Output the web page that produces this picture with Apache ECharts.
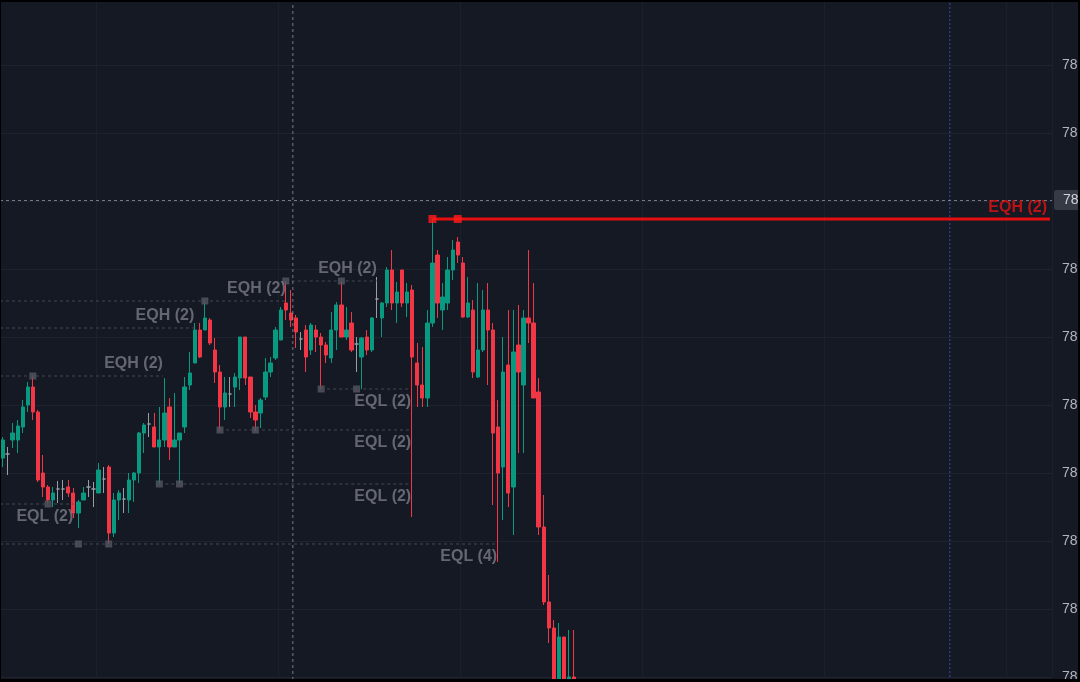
<!DOCTYPE html>
<html>
<head>
<meta charset="utf-8">
<script src="https://cdn.jsdelivr.net/npm/echarts@6/dist/echarts.min.js"></script>
<style>
html,body{margin:0;padding:0;background:#000;}
#chart{width:1080px;height:682px;background:#151924;}
#frame{position:absolute;left:0;top:0;width:1080px;height:682px;box-sizing:border-box;border-top:2px solid #000;border-left:1px solid #000;border-bottom:3px solid #000;border-right:2px solid #000;pointer-events:none;}
</style>
</head>
<body>
<div id="chart"></div>
<div id="frame"></div>
<script>
// ---- candle data (bar index = array position) ----
const opens  = [78283,78287,78301,78301,78314,78336,78354,78329,78268,78254,78241,78252,78252,78254,78248,78228,78241,78254,78252,78248,78262,78274,78208,78241,78242,78241,78261,78268,78308,78317,78314,78294,78301,78334,78294,78301,78314,78356,78378,78411,78411,78421,78391,78369,78334,78347,78354,78363,78404,78364,78329,78328,78344,78369,78383,78401,78438,78428,78423,78402,78411,78391,78411,78404,78396,78383,78411,78436,78404,78418,78397,78384,78404,78391,78442,78423,78438,78471,78438,78471,78438,78451,78378,78356,78343,78418,78486,78431,78438,78471,78499,78478,78424,78431,78364,78391,78431,78411,78314,78274,78376,78254,78396,78356,78423,78418,78349,78214,78139,78113,78041,78104,78051,78064];
const closes = [78301,78287,78308,78315,78334,78354,78329,78261,78254,78241,78248,78252,78252,78248,78228,78239,78248,78254,78252,78271,78262,78208,78241,78248,78242,78261,78268,78308,78316,78317,78294,78301,78328,78294,78301,78308,78354,78368,78411,78384,78423,78398,78369,78334,78348,78347,78364,78404,78363,78329,78321,78341,78369,78378,78411,78431,78431,78421,78409,78402,78384,78416,78404,78396,78386,78411,78436,78404,78411,78391,78397,78403,78391,78423,78442,78438,78471,78438,78449,78438,78449,78384,78356,78343,78418,78478,78438,78444,78471,78491,78486,78424,78438,78369,78391,78431,78411,78308,78268,78369,78248,78389,78369,78423,78418,78343,78214,78139,78113,78051,78104,78046,78064,78051];
const lows   = [78274,78266,78293,78288,78308,78329,78321,78259,78244,78238,78234,78238,78241,78244,78223,78213,78241,78244,78234,78248,78248,78197,78204,78221,78228,78228,78239,78258,78288,78304,78294,78257,78294,78281,78294,78257,78308,78351,78378,78383,78411,78396,78358,78310,78321,78334,78334,78351,78356,78323,78310,78313,78341,78364,78381,78401,78421,78414,78393,78391,78369,78386,78389,78352,78378,78378,78391,78404,78401,78389,78369,78352,78386,78389,78423,78404,78434,78431,78418,78434,78424,78224,78334,78334,78334,78414,78423,78411,78431,78461,78478,78423,78423,78363,78363,78389,78356,78236,78179,78221,78234,78206,78288,78288,78398,78343,78206,78136,78098,78041,78036,78036,78041,78041];
const highs  = [78304,78294,78318,78321,78341,78359,78366,78331,78286,78256,78254,78260,78261,78261,78253,78241,78254,78261,78259,78278,78274,78276,78248,78251,78253,78268,78269,78309,78318,78328,78328,78334,78363,78343,78348,78308,78364,78389,78418,78418,78441,78423,78403,78376,78364,78364,78368,78404,78404,78364,78336,78343,78383,78384,78414,78434,78460,78451,78426,78409,78416,78418,78416,78408,78399,78429,78439,78460,78434,78429,78404,78404,78411,78424,78464,78439,78474,78491,78459,78471,78458,78456,78398,78394,78431,78522,78491,78458,78484,78501,78504,78484,78464,78441,78458,78451,78458,78418,78341,78404,78431,78431,78436,78431,78491,78458,78363,78246,78166,78121,78118,78104,78111,78111];
const slotCount = 208;

// ---- price scale ticks ----
const tickMin = 78064, tickMax = 78744, tickStep = 68;

// ---- equal high / low levels ----
const levelStart = [-0.5, -0.5, -0.5, 56, -0.5, -0.5, 31, 43, 63];
const levelEnd   = [31.7, 37.9, 56, 74, 14, 97.8, 80.8, 80.8, 80.8];
const levelPrice = [78365, 78413, 78440, 78460, 78237, 78197, 78257, 78311, 78352];
const levelText  = ['EQH (2)','EQH (2)','EQH (2)','EQH (2)','EQL (2)','EQL (4)','EQL (2)','EQL (2)','EQL (2)'];
const levelKind  = ['EQH','EQH','EQH','EQH','EQL','EQL','EQL','EQL','EQL'];
const pivotBar   = [6, 40, 56, 67, 9, 15, 21, 31, 35, 43, 50, 63, 70];
const pivotPrice = [78365, 78440, 78460, 78460, 78237, 78197, 78197, 78257, 78257, 78311, 78311, 78352, 78352];

// active (red) equal high
const activeStart = 85, activeEnd = 207.1, activePrice = 78522, activeText = 'EQH (2)';
const activePivotBar = [85, 90];

// crosshair + marker line
const crossBar = 57.4, crossPrice = 78541, crossLabel = '78';
const blueLineBar = 187.3;

const UP = '#089981', DOWN = '#f23645', DOJI = '#9a9da6';
const FONT = 'Liberation Sans, Arial, sans-serif';
const candleData = opens.map((o, i) => {
  const item = { value: [o, closes[i], lows[i], highs[i]] };
  if (o === closes[i]) item.itemStyle = { color: DOJI, borderColor: DOJI, color0: DOJI, borderColor0: DOJI };
  return item;
});
const cats = Array.from({ length: slotCount }, (_, i) => String(i));

const series = [];
series.push({
  type: 'candlestick', xAxisIndex: 0, yAxisIndex: 0, data: candleData, barWidth: 3.8, clip: false,
  itemStyle: { color: UP, color0: DOWN, borderColor: UP, borderColor0: DOWN, borderWidth: 1 }
});
levelPrice.forEach((p, k) => {
  series.push({
    type: 'line', xAxisIndex: 1, yAxisIndex: 0, symbol: 'none', silent: true,
    data: [[levelStart[k], p], [levelEnd[k], p]],
    lineStyle: { color: '#454955', width: 1, type: [3, 3] }
  });
});
series.push({
  type: 'scatter', xAxisIndex: 1, yAxisIndex: 0, symbolSize: 1, silent: true,
  itemStyle: { color: 'transparent' },
  data: levelPrice.map((p, k) => ({
    value: [levelEnd[k], p],
    label: { show: true, formatter: levelText[k], position: levelKind[k] === 'EQH' ? 'top' : 'bottom',
             distance: 4, align: 'right', color: '#787b85', fontSize: 16, fontWeight: 'bold', fontFamily: FONT }
  }))
});
series.push({
  type: 'scatter', xAxisIndex: 1, yAxisIndex: 0, symbol: 'rect', symbolSize: 7, silent: true,
  itemStyle: { color: '#555862' },
  data: pivotBar.map((b, k) => [b, pivotPrice[k]])
});
series.push({
  type: 'line', xAxisIndex: 1, yAxisIndex: 0, symbol: 'none', silent: true, z: 5,
  data: [[activeStart, activePrice], [activeEnd, activePrice]],
  lineStyle: { color: '#e60f0f', width: 3 }
});
series.push({
  type: 'scatter', xAxisIndex: 1, yAxisIndex: 0, symbol: 'rect', symbolSize: 8, silent: true, z: 6,
  itemStyle: { color: '#ff1a1a' },
  data: activePivotBar.map(b => [b, activePrice])
});
series.push({
  type: 'scatter', xAxisIndex: 1, yAxisIndex: 0, symbolSize: 1, silent: true, z: 6,
  itemStyle: { color: 'transparent' },
  data: [{ value: [activeEnd, activePrice],
    label: { show: true, formatter: activeText, position: 'top', distance: 3, align: 'right', offset: [-3, 0],
             color: '#e31212', fontSize: 16, fontWeight: 'bold', fontFamily: FONT } }]
});
series.push({
  type: 'line', xAxisIndex: 1, yAxisIndex: 0, symbol: 'none', silent: true, clip: false,
  data: [[crossBar, tickMax + 10], [crossBar, tickMin - 20]],
  lineStyle: { color: 'rgba(150,153,162,0.75)', width: 1, type: [3, 3] },
  markLine: {
    silent: true, symbol: 'none',
    lineStyle: { color: 'rgba(150,153,162,0.75)', width: 1, type: [3, 3] },
    label: { show: true, position: 'end', formatter: crossLabel, distance: 2,
             backgroundColor: '#363a45', color: '#d1d4dc', padding: [3, 8, 3, 9], borderRadius: 2,
             fontSize: 14, fontFamily: FONT },
    data: [{ yAxis: crossPrice }]
  }
});
series.push({
  type: 'line', xAxisIndex: 1, yAxisIndex: 0, symbol: 'none', silent: true, clip: false,
  data: [[blueLineBar, tickMax + 10], [blueLineBar, tickMin - 20]],
  lineStyle: { color: 'rgba(52,92,190,0.85)', width: 1, type: [2, 2] }
});

const chart = echarts.init(document.getElementById('chart'), null, { renderer: 'canvas' });
chart.setOption({
  animation: false,
  backgroundColor: '#151924',
  grid: { left: 0, right: 28, top: -3, bottom: 5, containLabel: false, outerBoundsMode: 'none' },
  xAxis: [
    { type: 'category', data: cats, boundaryGap: true,
      axisLine: { show: false }, axisTick: { show: false }, axisLabel: { show: false },
      splitLine: { show: true, interval: (i) => (i - 19) % 36 === 0, lineStyle: { color: '#1c202b', width: 1 } } },
    { type: 'value', min: -0.5, max: slotCount - 0.5, show: false, splitLine: { show: false } }
  ],
  yAxis: [{
    type: 'value', position: 'right', min: tickMin, max: tickMax, interval: tickStep,
    axisLine: { show: false }, axisTick: { show: false },
    axisLabel: { color: '#b2b5be', fontSize: 14, margin: 10, fontFamily: FONT,
                 formatter: v => String(v).slice(0, 2) },
    splitLine: { show: true, lineStyle: { color: '#1f2330', width: 1 } }
  }],
  series: series
});
</script>
</body>
</html>
